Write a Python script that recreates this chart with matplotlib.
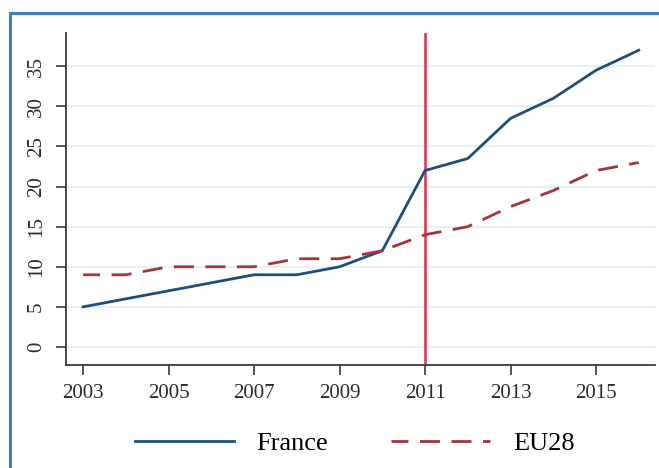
import matplotlib
matplotlib.use("Agg")
import matplotlib.pyplot as plt
from matplotlib.lines import Line2D

years = [2003, 2004, 2005, 2006, 2007, 2008, 2009, 2010, 2011, 2012, 2013, 2014, 2015, 2016]
france = [5, 6, 7, 8, 9, 9, 10, 12, 22, 23.5, 28.5, 31, 34.5, 37]
eu28 = [9, 9, 10, 10, 10, 11, 11, 12, 14, 15, 17.5, 19.5, 22, 23]
x_ticks = [2003, 2005, 2007, 2009, 2011, 2013, 2015]
y_ticks = [0, 5, 10, 15, 20, 25, 30, 35]
event_year = 2011

plt.rcParams['font.family'] = ['Liberation Serif', 'DejaVu Serif']
plt.rcParams['lines.scale_dashes'] = False

W, H = 659, 468
fig = plt.figure(figsize=(W / 100, H / 100), dpi=100)
ax = fig.add_axes([66 / W, 1 - 365 / H, (655 - 66) / W, (365 - 33) / H])

navy = '#1f4e79'
maroon = '#a3333d'
red = '#d2354c'
grid = '#e6f1f4'
axis_col = '#3a3a3a'
frame_col = '#3b7dc0'

ax.set_xlim(2002.6, 2016.38)
ax.set_ylim(-2.25, 39.15)

for y in y_ticks:
    ax.axhline(y, color=grid, lw=1.6, zorder=0)

l1, = ax.plot(years, france, color=navy, lw=2.0, label='France', zorder=3)
l2, = ax.plot(years, eu28, color=maroon, lw=2.0, ls=(2.2, (14.4, 8.3)),
              label='EU28', zorder=3)
ax.axvline(event_year, color=red, lw=1.8, zorder=2)

for s in ['top', 'right']:
    ax.spines[s].set_visible(False)
for s in ['left', 'bottom']:
    ax.spines[s].set_color(axis_col)
    ax.spines[s].set_linewidth(1.3)

ax.set_xticks(x_ticks)
ax.set_xticklabels([str(v) for v in x_ticks])
ax.set_yticks(y_ticks)
ax.set_yticklabels([str(v) for v in y_ticks], rotation=90, va='center')
ax.tick_params(axis='both', colors=axis_col, labelcolor='#2a2a2a', length=7.5,
               width=1.2, labelsize=15)
ax.tick_params(axis='x', pad=6)
ax.tick_params(axis='y', pad=7)

leg = ax.legend(handles=[l1, l2], loc='center', ncol=2, frameon=False,
                bbox_to_anchor=(0.49, -(443 - 365) / (365 - 33)),
                fontsize=19, handlelength=3.75, handletextpad=0.85,
                columnspacing=2.4)

# blue outer frame: left and top edges only
fx, fy = 10 / W, 1 - 12.7 / H
fig.add_artist(Line2D([fx, fx, 658.5 / W], [0.5 / H, fy, fy],
                      transform=fig.transFigure, color=frame_col, lw=2.2,
                      solid_capstyle='butt', solid_joinstyle='miter'))

fig.savefig('out.png', dpi=100)
